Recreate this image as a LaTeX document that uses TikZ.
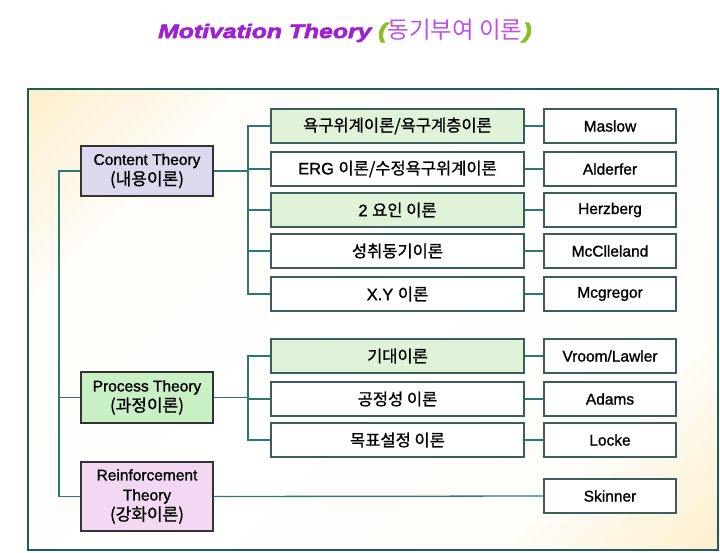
\documentclass[tikz,border=0pt]{standalone}
\usepackage{fontspec}
\setmainfont{Liberation Sans}[FakeBold=1.2]
\newfontfamily\kr{Noto Sans CJK KR}[FakeBold=1.0]
\newfontfamily\titlefont{Liberation Sans}[FakeStretch=1.27,FakeBold=3.2]
\newfontfamily\krtitle{Noto Sans CJK KR}
\usetikzlibrary{calc}
\definecolor{framec}{HTML}{1E5E5A}
\definecolor{connc}{HTML}{2A7A72}
\definecolor{boxc}{HTML}{3A5E5C}
\definecolor{byel}{HTML}{FCDE9C}
\definecolor{lav}{HTML}{DCD8EE}
\definecolor{procg}{HTML}{C9EFC4}
\definecolor{reinp}{HTML}{F2D8F2}
\definecolor{lgreen}{HTML}{E0F3D8}
\definecolor{titlep}{HTML}{A020D4}
\definecolor{titlek}{HTML}{C050E8}
\definecolor{titleg}{HTML}{88C020}
\pgfdeclareverticalshading{diagbg}{100bp}{color(0bp)=(byel); color(28bp)=(white!94!byel); color(50bp)=(white); color(72bp)=(white!94!byel); color(100bp)=(byel)}
\tikzset{
  conn/.style={draw=connc, line width=1.3pt},
  theorybox/.style={draw=black!80, line width=1.3pt, minimum width=132pt, align=center, inner sep=1pt, font=\fontsize{15.5}{20}\selectfont},
  midbox/.style={draw=boxc, line width=1.3pt, fill=white, minimum width=253pt, minimum height=34pt, inner sep=1pt, font=\fontsize{16.5}{18}\selectfont},
  rightbox/.style={draw=boxc, line width=1.3pt, fill=white, minimum width=132pt, minimum height=34pt, inner sep=1pt, font=\fontsize{15.5}{17}\selectfont},
}
\newcommand{\krp}[1]{{\fontsize{17}{20}\selectfont\kr #1}}
\begin{document}
\begin{tikzpicture}[x=1pt,y=-1pt]
\useasboundingbox (0,0) rectangle (720,552);
\fill[white] (0,0) rectangle (720,552);
% frame
\shade[shading=diagbg, shading angle=45] (28,89) rectangle (718,550);
\draw[draw=framec, line width=1.5pt] (28,89) rectangle (718,550);
% title
\node[anchor=base west, inner sep=0pt, text=titlep] (title) at (158,38) {\fontsize{19.5}{20}\titlefont\bfseries\itshape Motivation Theory};
\node[anchor=base west, inner sep=0pt, text=titleg] (lp) at (378,38) {\fontsize{21}{20}\titlefont\bfseries\itshape (};
\node[anchor=base west, inner sep=0pt, text=titlek] (kt) at (lp.base east) {\fontsize{23.5}{20}\krtitle 동기부여 이론};
\node[anchor=base west, inner sep=0pt, text=titleg] (rp) at (kt.base east) {\fontsize{21}{20}\titlefont\bfseries\itshape )};
% theory boxes
\node[theorybox, fill=lav, minimum height=50pt] (content) at (147,171) {Content Theory\\\krp{(내용이론)}};
\node[theorybox, fill=procg, minimum height=51pt] (process) at (147,397.5) {Process Theory\\\krp{(과정이론)}};
\node[theorybox, fill=reinp, minimum height=69pt] (reinf) at (147,496.5) {Reinforcement\\Theory\\\krp{(강화이론)}};
% middle boxes
\node[midbox, fill=lgreen] (m1) at (397.5,126) {\kr 욕구위계이론/욕구계층이론};
\node[midbox] (m2) at (397.5,169) {ERG {\kr 이론/수정욕구위계이론}};
\node[midbox, fill=lgreen] (m3) at (397.5,210) {2 {\kr 요인 이론}};
\node[midbox] (m4) at (397.5,251) {\kr 성취동기이론};
\node[midbox] (m5) at (397.5,294) {X.Y {\kr 이론}};
\node[midbox, fill=lgreen] (p1) at (397.5,356) {\kr 기대이론};
\node[midbox] (p2) at (397.5,399) {\kr 공정성 이론};
\node[midbox] (p3) at (397.5,440) {\kr 목표설정 이론};
% right boxes
\node[rightbox] (r1) at (610,126) {Maslow};
\node[rightbox] (r2) at (610,169) {Alderfer};
\node[rightbox] (r3) at (610,210) {Herzberg};
\node[rightbox] (r4) at (610,251) {McClleland};
\node[rightbox] (r5) at (610,294) {Mcgregor};
\node[rightbox] (q1) at (610,356) {Vroom/Lawler};
\node[rightbox] (q2) at (610,399) {Adams};
\node[rightbox] (q3) at (610,440) {Locke};
\node[rightbox] (sk) at (610,496) {Skinner};
% trunk
\coordinate (trunk) at (59,0);
\coordinate (bus) at (248,0);
\draw[conn] (content.west) -- (content.west -| trunk) |- (reinf.west);
\draw[conn] (process.west) -- (process.west -| trunk);
% content bus
\draw[conn] (m1.west) -- (m1.west -| bus) |- (m5.west);
\foreach \n in {m2,m3,m4} \draw[conn] (\n.west) -- (\n.west -| bus);
\draw[conn] (content.east) -- (content.east -| bus);
% process bus
\draw[conn] (p1.west) -- (p1.west -| bus) |- (p3.west);
\draw[conn] (p2.west) -- (p2.west -| bus);
\draw[conn] (process.east) -- (process.east -| bus);
% to authors
\draw[conn] (m1.east) -- (r1.west);
\draw[conn] (m2.east) -- (r2.west);
\draw[conn] (m3.east) -- (r3.west);
\draw[conn] (m4.east) -- (r4.west);
\draw[conn] (m5.east) -- (r5.west);
\draw[conn] (p1.east) -- (q1.west);
\draw[conn] (p2.east) -- (q2.west);
\draw[conn] (p3.east) -- (q3.west);
\draw[conn] (reinf.east) -- (sk.west);
\end{tikzpicture}
\end{document}
